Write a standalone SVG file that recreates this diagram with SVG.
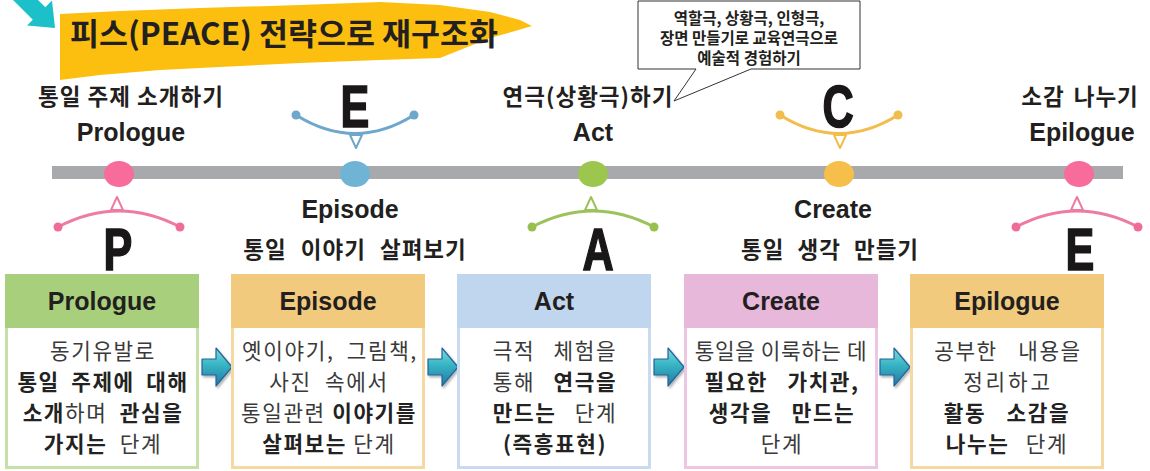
<svg xmlns="http://www.w3.org/2000/svg" width="1150" height="471" viewBox="0 0 1150 471">
<defs>
<linearGradient id="ag" x1="0" y1="0" x2="0" y2="1">
<stop offset="0" stop-color="#7FDCDD"/>
<stop offset="0.45" stop-color="#36B4C3"/>
<stop offset="1" stop-color="#2478A6"/>
</linearGradient>
<filter id="sh" x="-20%" y="-20%" width="150%" height="150%">
<feDropShadow dx="1.5" dy="2" stdDeviation="1.2" flood-color="#000" flood-opacity="0.3"/>
</filter>
<path id="arr" d="M0,11 H14 V0 L30,19 L14,38 V27 H0 Z" fill="url(#ag)" stroke="#24639A" stroke-width="1.2" stroke-linejoin="round" filter="url(#sh)"/>
</defs>
<style>
.kr{font-family:"Noto Sans CJK KR","Noto Sans",sans-serif;fill:#231f20}
.lbl{font-size:22.5px;font-weight:bold;text-anchor:middle;letter-spacing:1px}
.en{font-family:"Liberation Sans",Arial,sans-serif;font-weight:bold;font-size:25px;text-anchor:middle;fill:#231f20}
.big{font-family:"Liberation Sans",Arial,sans-serif;font-weight:bold;font-size:60px;text-anchor:middle;fill:#1a1718;stroke:#1a1718;stroke-width:1.6}
.body{font-family:"Noto Sans CJK KR","Noto Sans",sans-serif;font-size:21.3px;letter-spacing:1.6px;text-anchor:middle;fill:#3a3a3a}
.b{font-weight:bold;fill:#222}
.co{font-family:"Noto Sans CJK KR","Noto Sans",sans-serif;font-size:15.5px;font-weight:bold;text-anchor:middle;fill:#231f20}
.arc{fill:none;stroke-width:3;stroke-linecap:round}
.tri{fill:#fff;stroke-width:2;stroke-linejoin:round}
</style>

<g id="title">
<path d="M13,0 L38,0 L45.3,7.3 L52,0.5 L55,28 L27,25.5 L32.8,19.8 Z" fill="#1CC0C8"/>
<path d="M60,14 L120,11 L200,8 L300,5 L380,2 L440,5 L490,12 L520,20 L532,26 L515,31 L490,38 L465,48 L440,58 L380,60 L300,63 L220,67 L160,70 L100,75 L60,80 Z" fill="#FDBF0F"/>
<text class="kr" x="70" y="45" font-size="31" font-weight="bold" textLength="428" lengthAdjust="spacingAndGlyphs">피스(PEACE) 전략으로 재구조화</text>
</g>

<g id="callout">
<path d="M638,1 H860 V69 H751 L674,101 L696,69 H638 Z" fill="#fff" stroke="#333" stroke-width="1"/>
<text class="co" x="749" y="24">역할극, 상황극, 인형극,</text>
<text class="co" x="749" y="44">장면 만들기로 교육연극으로</text>
<text class="co" x="749" y="64">예술적 경험하기</text>
</g>

<g id="connectors">
<rect x="52" y="166" width="1071" height="13" fill="#A7A9AC"/>
<use href="#arr" x="202" y="348"/>
<use href="#arr" x="428" y="348"/>
<use href="#arr" x="654" y="348"/>
<use href="#arr" x="880" y="348"/>
</g>

<g id="stage-p">
<text class="kr lbl" x="131" y="105">통일 주제 소개하기</text>
<text class="en" x="131" y="141">Prologue</text>
<ellipse cx="119" cy="174" rx="15" ry="13" fill="#F76C9B"/>
<path class="arc" d="M58,227 Q119,195 180,227" stroke="#EE7BA2"/>
<circle cx="58" cy="227" r="4.5" fill="#F06C98"/>
<circle cx="180" cy="227" r="4.5" fill="#F06C98"/>
<path class="tri" d="M117,197 L111,210 L123,210 Z" stroke="#EE7BA2"/>
<text class="big" transform="translate(118,270) scale(0.72,1)">P</text>
</g>

<g id="stage-e1">
<text class="big" transform="translate(355,127) scale(0.72,1)">E</text>
<path class="arc" d="M296,115 Q355,152 414,115" stroke="#6EA7CB"/>
<circle cx="296" cy="115" r="4.5" fill="#6EA7CB"/>
<circle cx="414" cy="115" r="4.5" fill="#6EA7CB"/>
<path class="tri" d="M356,148 L350,135 L362,135 Z" stroke="#6EA7CB"/>
<ellipse cx="355" cy="174" rx="15" ry="13" fill="#6FB3D5"/>
<text class="en" x="350" y="218">Episode</text>
<text class="kr lbl" x="355" y="258" style="word-spacing:8px">통일 이야기 살펴보기</text>
</g>

<g id="stage-a">
<text class="kr lbl" x="588" y="105">연극(상황극)하기</text>
<text class="en" x="593" y="141">Act</text>
<ellipse cx="593" cy="174" rx="15" ry="13" fill="#9DC64F"/>
<path class="arc" d="M532,227 Q593,195 654,227" stroke="#9CC25A"/>
<circle cx="532" cy="227" r="4.5" fill="#97C04F"/>
<circle cx="654" cy="227" r="4.5" fill="#97C04F"/>
<path class="tri" d="M591,197 L585,210 L597,210 Z" stroke="#9CC25A"/>
<text class="big" transform="translate(598,270) scale(0.72,1)">A</text>
</g>

<g id="stage-c">
<text class="big" transform="translate(838,127) scale(0.72,1)">C</text>
<path class="arc" d="M780,115 Q839,152 898,115" stroke="#F1BD4C"/>
<circle cx="780" cy="115" r="4.5" fill="#F1BD4C"/>
<circle cx="898" cy="115" r="4.5" fill="#F1BD4C"/>
<path class="tri" d="M840,148 L834,135 L846,135 Z" stroke="#F1BD4C"/>
<ellipse cx="839" cy="174" rx="15" ry="13" fill="#F5BF4A"/>
<text class="en" x="833" y="218">Create</text>
<text class="kr lbl" x="830" y="258" style="word-spacing:7px">통일 생각 만들기</text>
</g>

<g id="stage-e2">
<text class="kr lbl" x="1080" y="105" style="word-spacing:3px">소감 나누기</text>
<text class="en" x="1082" y="141">Epilogue</text>
<ellipse cx="1079" cy="174" rx="15" ry="13" fill="#F76C9B"/>
<path class="arc" d="M1016,227 Q1077,195 1138,227" stroke="#EE7BA2"/>
<circle cx="1016" cy="227" r="4.5" fill="#F06C98"/>
<circle cx="1138" cy="227" r="4.5" fill="#F06C98"/>
<path class="tri" d="M1077,197 L1071,210 L1083,210 Z" stroke="#EE7BA2"/>
<text class="big" transform="translate(1080,270) scale(0.72,1)">E</text>
</g>

<g id="box-prologue">
<rect x="6.5" y="275.5" width="191" height="192" fill="#fff" stroke="#C6E1A8" stroke-width="3"/>
<rect x="5" y="274" width="194" height="54" fill="#A8D07C"/>
<text class="en" x="102" y="310">Prologue</text>
<text class="body" x="103" y="359">동기유발로</text>
<text class="body b" x="103" y="390" style="word-spacing:5px">통일 주제에 대해</text>
<text class="body" x="103" y="421" style="word-spacing:6px"><tspan class="b">소개</tspan>하며 <tspan class="b">관심을</tspan></text>
<text class="body" x="103" y="452" style="word-spacing:6px"><tspan class="b">가지는</tspan> 단계</text>
</g>

<g id="box-episode">
<rect x="232.5" y="275.5" width="191" height="192" fill="#fff" stroke="#F5D9A2" stroke-width="3"/>
<rect x="231" y="274" width="194" height="54" fill="#F2CA7E"/>
<text class="en" x="328" y="310">Episode</text>
<text class="body" x="330" y="359" style="word-spacing:6px">옛이야기, 그림책,</text>
<text class="body" x="329" y="390" style="word-spacing:7px">사진 속에서</text>
<text class="body" x="329" y="421">통일관련 <tspan class="b">이야기를</tspan></text>
<text class="body" x="329" y="452"><tspan class="b">살펴보는</tspan> 단계</text>
</g>

<g id="box-act">
<rect x="458.5" y="275.5" width="191" height="192" fill="#fff" stroke="#C8DBF0" stroke-width="3"/>
<rect x="457" y="274" width="194" height="54" fill="#C0D6EE"/>
<text class="en" x="554" y="310">Act</text>
<text class="body" x="555" y="359" style="word-spacing:12px">극적 체험을</text>
<text class="body" x="555" y="390" style="word-spacing:12px">통해 <tspan class="b">연극을</tspan></text>
<text class="body" x="555" y="421" style="word-spacing:12px"><tspan class="b">만드는</tspan> 단계</text>
<text class="body b" x="555" y="452">(즉흥표현)</text>
</g>

<g id="box-create">
<rect x="685.5" y="275.5" width="191" height="192" fill="#fff" stroke="#EDC6E2" stroke-width="3"/>
<rect x="684" y="274" width="194" height="54" fill="#E8B8DA"/>
<text class="en" x="781" y="310">Create</text>
<text class="body" x="781" y="359" style="letter-spacing:0.6px">통일을 이룩하는 데</text>
<text class="body b" x="782" y="390" style="word-spacing:13px">필요한 가치관,</text>
<text class="body b" x="782" y="421" style="word-spacing:13px">생각을 만드는</text>
<text class="body" x="782" y="452">단계</text>
</g>

<g id="box-epilogue">
<rect x="911.5" y="275.5" width="191" height="192" fill="#fff" stroke="#F5D9A2" stroke-width="3"/>
<rect x="910" y="274" width="194" height="54" fill="#F2CA7E"/>
<text class="en" x="1007" y="310">Epilogue</text>
<text class="body" x="1008" y="359" style="word-spacing:14px">공부한 내용을</text>
<text class="body" x="1008" y="390" style="letter-spacing:2.8px">정리하고</text>
<text class="body b" x="1007" y="421" style="word-spacing:14px">활동 소감을</text>
<text class="body" x="1007" y="452" style="word-spacing:10px"><tspan class="b">나누는</tspan> 단계</text>
</g>
</svg>
